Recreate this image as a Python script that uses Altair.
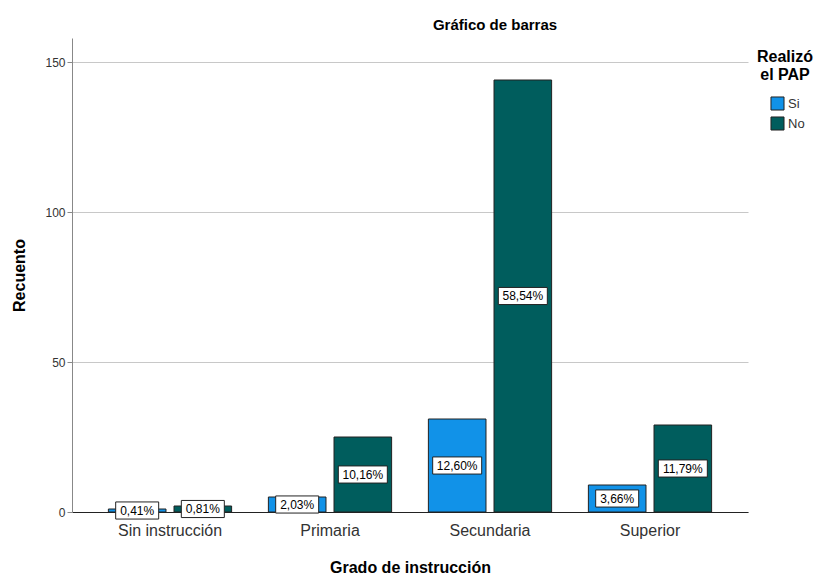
import altair as alt
import pandas as pd

categories = ["Sin instrucción", "Primaria", "Secundaria", "Superior"]
groups = ["Si", "No"]
si_counts = [1, 5, 31, 9]
no_counts = [2, 25, 144, 29]
si_pct = ["0,41%", "2,03%", "12,60%", "3,66%"]
no_pct = ["0,81%", "10,16%", "58,54%", "11,79%"]
colors = ["#1192E8", "#005D5D"]

rows = []
for i, c in enumerate(categories):
    rows.append({"grado": c, "pap": "Si", "n": si_counts[i], "pct": si_pct[i]})
    rows.append({"grado": c, "pap": "No", "n": no_counts[i], "pct": no_pct[i]})
df = pd.DataFrame(rows)

FONT = "Liberation Sans"
ymax = 158
box_half = 2.85  # half box height in data units (17px / 3px per unit / 2)

x_enc = alt.X(
    "grado:N",
    sort=categories,
    scale=alt.Scale(paddingInner=0, paddingOuter=0.1125),
    axis=alt.Axis(
        title="Grado de instrucción",
        labelAngle=0,
        labelFontSize=16,
        labelColor="#333333",
        labelFont=FONT,
        labelPadding=10,
        ticks=False,
        domainColor="#222222",
        titleFont=FONT,
        titleFontSize=16,
        titleFontWeight="bold",
        titleColor="#000000",
        titlePadding=21,
    ),
)
xo_enc = alt.XOffset(
    "pap:N", sort=groups, scale=alt.Scale(paddingInner=0.122, paddingOuter=0.28)
)
y_scale = alt.Scale(domain=[0, ymax], nice=False)

bars = alt.Chart(df).mark_bar(stroke="#222222", strokeWidth=1).encode(
    x=x_enc,
    xOffset=xo_enc,
    y=alt.Y(
        "n:Q",
        scale=y_scale,
        axis=alt.Axis(
            title="Recuento",
            values=[0, 50, 100, 150],
            grid=True,
            gridColor="#c8c8c8",
            domainColor="#888888",
            tickColor="#888888",
            tickSize=5,
            labelFontSize=12,
            labelColor="#333333",
            labelFont=FONT,
            titleFont=FONT,
            titleFontSize=16,
            titleFontWeight="bold",
            titleColor="#000000",
            titlePadding=17,
        ),
    ),
    color=alt.Color(
        "pap:N",
        sort=groups,
        scale=alt.Scale(domain=groups, range=colors),
        legend=alt.Legend(
            title=["Realizó", "el PAP"],
            orient="none",
            legendX=685,
            legendY=11,
            titleAlign="center",
            titleAnchor="middle",
            titleFont=FONT,
            titleFontSize=16,
            titleFontWeight="bold",
            titleColor="#000000",
            titlePadding=13,
            labelFont=FONT,
            labelFontSize=13,
            labelColor="#333333",
            labelOffset=3,
            symbolType="square",
            symbolSize=170,
            symbolOffset=4,
            symbolStrokeColor="#222222",
            symbolStrokeWidth=1,
            symbolOpacity=1,
            rowPadding=1,
        ),
    ),
)

base_lbl = alt.Chart(df).transform_calculate(
    mid="datum.n / 2",
    lo="datum.n / 2 - %f" % box_half,
    hi="datum.n / 2 + %f" % box_half,
    ln="length(datum.pct)",
)

box_short = base_lbl.transform_filter("datum.ln <= 5").mark_bar(
    width=43, fill="white", stroke="#222222", strokeWidth=1
).encode(x=x_enc, xOffset=xo_enc, y=alt.Y("lo:Q", scale=y_scale), y2="hi:Q")

box_long = base_lbl.transform_filter("datum.ln > 5").mark_bar(
    width=49, fill="white", stroke="#222222", strokeWidth=1
).encode(x=x_enc, xOffset=xo_enc, y=alt.Y("lo:Q", scale=y_scale), y2="hi:Q")

texts = base_lbl.mark_text(
    font=FONT, fontSize=12, color="#000000", baseline="middle", align="center"
).encode(x=x_enc, xOffset=xo_enc, y=alt.Y("mid:Q", scale=y_scale), text="pct:N")

chart = (
    alt.layer(bars, box_short, box_long, texts)
    .properties(
        width=676,
        height=474,
        title=alt.TitleParams(
            "Gráfico de barras",
            font=FONT,
            fontSize=15,
            fontWeight="bold",
            color="#000000",
            anchor="middle",
            dx=85,
            offset=5,
        ),
        autosize=alt.AutoSizeParams(type="none"),
        padding={"left": 64, "top": 30, "right": 70, "bottom": 64},
    )
    .configure_view(stroke=None)
    .configure_axis(labelFont=FONT)
)

chart.save("out.html", embed_options={"renderer": "svg", "actions": False})
